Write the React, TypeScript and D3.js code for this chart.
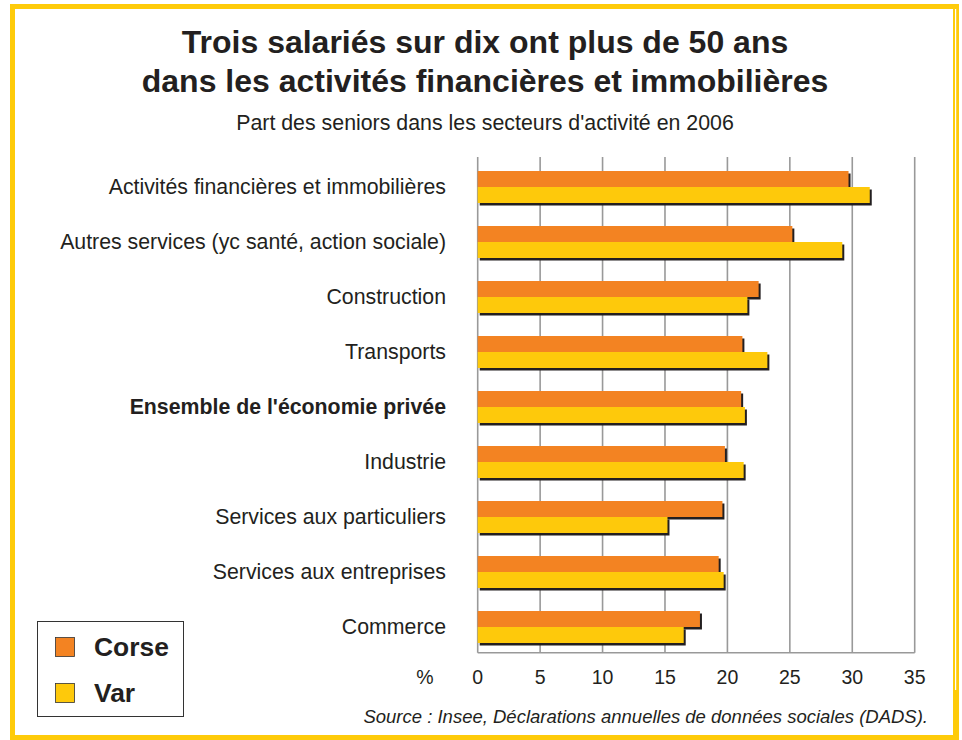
import React from "react";
import * as d3 from "d3";

const categories = [
  "Activités financières et immobilières",
  "Autres services (yc santé, action sociale)",
  "Construction",
  "Transports",
  "Ensemble de l'économie privée",
  "Industrie",
  "Services aux particuliers",
  "Services aux entreprises",
  "Commerce",
];
const corse = [29.7, 25.2, 22.5, 21.2, 21.1, 19.8, 19.6, 19.3, 17.8];
const varValues = [31.4, 29.2, 21.6, 23.2, 21.4, 21.3, 15.2, 19.7, 16.5];
const ticks = [0, 5, 10, 15, 20, 25, 30, 35];
const boldCategory = "Ensemble de l'économie privée";
const seriesNames = ["Corse", "Var"];

const ORANGE = "#F38322";
const YELLOW = "#FEC90B";
const FRAME = "#FECB0A";
const SHADOW = "#231F20";
const FONT = "'Liberation Sans', Arial, Helvetica, sans-serif";

export default function App() {
  const W = 962;
  const H = 740;
  const x = d3.scaleLinear().domain([0, 35]).range([477.7, 914.7]);
  const y = d3
    .scaleBand<string>()
    .domain(categories)
    .range([159.5, 159.5 + 9 * 55])
    .paddingInner(23 / 55)
    .paddingOuter(23 / 110);
  const bh = y.bandwidth() / 2;
  const series = [
    { name: seriesNames[0], values: corse, color: ORANGE },
    { name: seriesNames[1], values: varValues, color: YELLOW },
  ];
  const gridTop = 157;
  const gridBottom = 652.7;

  return (
    <svg
      width={W}
      height={H}
      style={{ position: "absolute", left: 0, top: 0, background: "#fff" }}
      fontFamily={FONT}
    >
      <rect x={0} y={0} width={W} height={H} fill="#fff" />
      {/* frame */}
      <rect x={10} y={4} width={949} height={5} fill={FRAME} />
      <rect x={10} y={4} width={5} height={736} fill={FRAME} />
      <rect x={953} y={4} width={6} height={736} fill={FRAME} />
      <rect x={10} y={735} width={949} height={5} fill={FRAME} />
      <line x1={955.6} x2={955.6} y1={9} y2={690} stroke="#fff" strokeWidth={1.2} />

      {/* titles */}
      <text x={485} y={53} textAnchor="middle" fontSize={32} fontWeight="bold" fill="#231f20">
        Trois salariés sur dix ont plus de 50 ans
      </text>
      <text x={485} y={91.5} textAnchor="middle" fontSize={32} fontWeight="bold" fill="#231f20">
        dans les activités financières et immobilières
      </text>
      <text x={485} y={130} textAnchor="middle" fontSize={21.35} fill="#231f20">
        Part des seniors dans les secteurs d'activité en 2006
      </text>

      {/* grid */}
      {ticks.map((t) => (
        <line
          key={"g" + t}
          x1={x(t)}
          x2={x(t)}
          y1={gridTop}
          y2={gridBottom}
          stroke="#999"
          strokeWidth={1.6}
        />
      ))}
      <line
        x1={x(0)}
        x2={x(35)}
        y1={gridBottom}
        y2={gridBottom}
        stroke="#999"
        strokeWidth={1.4}
      />

      {/* bars */}
      {categories.map((c, i) => {
        const y0 = y(c) as number;
        return (
          <g key={c}>
            {series.map((s, j) => (
              <rect
                key={"sh" + j}
                x={x(0) + 2}
                y={y0 + j * bh + 2.5}
                width={x(s.values[i]) - x(0)}
                height={bh}
                fill={SHADOW}
              />
            ))}
            {series.map((s, j) => (
              <rect
                key={"b" + j}
                x={x(0)}
                y={y0 + j * bh}
                width={x(s.values[i]) - x(0)}
                height={bh}
                fill={s.color}
              />
            ))}
            <text
              x={446}
              y={y0 + bh}
              dy="0.33em"
              textAnchor="end"
              fontSize={21.3}
              fontWeight={c === boldCategory ? "bold" : "normal"}
              fill="#231f20"
            >
              {c}
            </text>
          </g>
        );
      })}

      {/* x tick labels */}
      {ticks.map((t) => (
        <text key={"t" + t} x={x(t)} y={684} textAnchor="middle" fontSize={19.5} fill="#231f20">
          {t}
        </text>
      ))}
      <text x={425} y={684} textAnchor="middle" fontSize={19.5} fill="#231f20">
        %
      </text>

      {/* legend */}
      <rect x={37.5} y={621.5} width={146} height={95} fill="#fff" stroke="#333" strokeWidth={1} />
      {series.map((s, j) => (
        <g key={s.name}>
          <rect
            x={55.5}
            y={637.5 + j * 46}
            width={19}
            height={19}
            fill={s.color}
            stroke="#333"
            strokeWidth={0.8}
          />
          <text x={94} y={655.5 + j * 46} fontSize={26.4} fontWeight="bold" fill="#231f20">
            {s.name}
          </text>
        </g>
      ))}

      {/* source */}
      <text
        x={928}
        y={723}
        textAnchor="end"
        fontSize={18.5}
        fontStyle="italic"
        fill="#231f20"
      >
        Source : Insee, Déclarations annuelles de données sociales (DADS).
      </text>
    </svg>
  );
}
